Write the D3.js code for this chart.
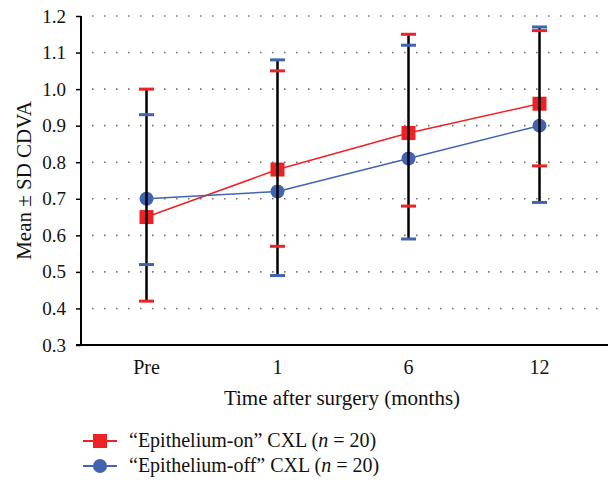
<!DOCTYPE html>
<html><head><meta charset="utf-8">
<script src="https://cdn.jsdelivr.net/npm/d3@7/dist/d3.min.js"></script>
<style>body{margin:0;background:#fff;} svg{display:block;} text{font-family:"Liberation Serif","Times New Roman",serif;fill:#111;}</style>
</head><body>
<svg id="c" width="608" height="480"></svg>
<script>
const categories = ["Pre", "1", "6", "12"];
const onMean  = [0.65, 0.78, 0.88, 0.96];
const onUpper = [1.00, 1.05, 1.15, 1.16];
const onLower = [0.42, 0.57, 0.68, 0.79];
const offMean  = [0.70, 0.72, 0.81, 0.90];
const offUpper = [0.93, 1.08, 1.12, 1.17];
const offLower = [0.52, 0.49, 0.59, 0.69];
const yTicks = [0.3, 0.4, 0.5, 0.6, 0.7, 0.8, 0.9, 1.0, 1.1, 1.2];
const seriesNames = ["\u201CEpithelium-on\u201D CXL (", "\u201CEpithelium-off\u201D CXL ("];

const RED = "#ee2224", BLUE = "#4264b0";
const FF = "Liberation Serif";
const svg = d3.select("#c");
const L = 81, R = 605, T = 16, B = 345;
const x = d3.scaleBand().domain(categories).range([L, R]);
const xc = d => x(d) + x.bandwidth() / 2;
const y = d3.scaleLinear().domain([0.3, 1.2]).range([B, T]);

// dotted grid
const g = svg.append("g");
yTicks.filter(v => v > 0.3).forEach(v => {
  g.append("line").attr("x1", 92).attr("x2", 605).attr("y1", y(v)).attr("y2", y(v))
    .attr("stroke", "#777").attr("stroke-width", 1.6).attr("stroke-dasharray", "1.6 10.4");
});

// axes
const yAxis = d3.axisLeft(y).tickValues(yTicks).tickFormat(d3.format(".1f")).tickSize(5).tickPadding(10);
const ya = svg.append("g").attr("transform", `translate(${L},0)`).call(yAxis).attr("font-family", FF);
ya.select(".domain").attr("stroke", "#000").attr("stroke-width", 2).attr("d", `M-5,${B}H0V${T}`);
ya.selectAll(".tick line").attr("stroke", "#000").attr("stroke-width", 1.5);
ya.selectAll(".tick text").attr("font-size", 19).attr("fill", "#111");

svg.append("line").attr("x1", L - 1).attr("x2", 608).attr("y1", B).attr("y2", B).attr("stroke", "#000").attr("stroke-width", 2);
const xa = svg.append("g").attr("transform", `translate(0,${B})`).call(d3.axisBottom(x).tickSize(0).tickPadding(15)).attr("font-family", FF);
xa.select(".domain").remove();
xa.selectAll(".tick text").attr("font-size", 20).attr("fill", "#111");

svg.append("text").attr("transform", `translate(31,${(T + B) / 2}) rotate(-90)`).attr("text-anchor", "middle")
  .attr("font-size", 21).text("Mean \u00B1 SD CDVA");
svg.append("text").attr("x", 342).attr("y", 405).attr("text-anchor", "middle")
  .attr("font-size", 21).text("Time after surgery (months)");

// series lines
const line = d3.line().x((d, i) => xc(categories[i])).y(d => y(d));
svg.append("path").datum(onMean).attr("d", line).attr("fill", "none").attr("stroke", RED).attr("stroke-width", 1.5);
svg.append("path").datum(offMean).attr("d", line).attr("fill", "none").attr("stroke", BLUE).attr("stroke-width", 1.5);

// markers
categories.forEach((c, i) => {
  svg.append("rect").attr("x", xc(c) - 7).attr("y", y(onMean[i]) - 7).attr("width", 14).attr("height", 14).attr("fill", RED);
  svg.append("circle").attr("cx", xc(c)).attr("cy", y(offMean[i])).attr("r", 7).attr("fill", BLUE);
});

// error bars
categories.forEach((c, i) => {
  const hi = Math.max(onUpper[i], offUpper[i]), lo = Math.min(onLower[i], offLower[i]);
  svg.append("line").attr("x1", xc(c)).attr("x2", xc(c)).attr("y1", y(hi)).attr("y2", y(lo)).attr("stroke", "#000").attr("stroke-width", 2.5);
  [[onUpper[i], RED], [onLower[i], RED], [offUpper[i], BLUE], [offLower[i], BLUE]].forEach(([v, col]) => {
    svg.append("line").attr("x1", xc(c) - 7.5).attr("x2", xc(c) + 7.5).attr("y1", y(v)).attr("y2", y(v)).attr("stroke", col).attr("stroke-width", 3);
  });
});

// legend
[[RED, 0], [BLUE, 1]].forEach(([col, k]) => {
  const ly = 441 + k * 25;
  svg.append("line").attr("x1", 83).attr("x2", 117).attr("y1", ly).attr("y2", ly).attr("stroke", col).attr("stroke-width", 1.8);
  if (k === 0) svg.append("rect").attr("x", 93).attr("y", ly - 7).attr("width", 14).attr("height", 14).attr("fill", col);
  else svg.append("circle").attr("cx", 100).attr("cy", ly).attr("r", 7).attr("fill", col);
  const t = svg.append("text").attr("x", 129).attr("y", ly + 6).attr("font-size", 20);
  t.append("tspan").text(seriesNames[k]);
  t.append("tspan").attr("font-style", "italic").text("n");
  t.append("tspan").text(" = 20)");
});
</script>
</body></html>
